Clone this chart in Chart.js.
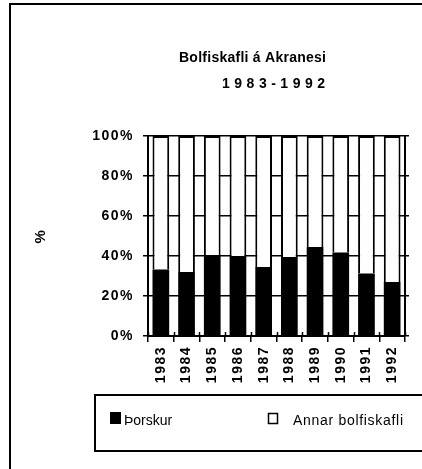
<!DOCTYPE html>
<html><head><meta charset="utf-8">
<style>html,body{margin:0;padding:0;background:#fff;overflow:hidden}canvas{display:block}</style>
<script src="https://cdn.jsdelivr.net/npm/chart.js@4"></script>
</head><body>
<canvas id="c" width="422" height="469"></canvas>
<script>
const years = ['1983','1984','1985','1986','1987','1988','1989','1990','1991','1992'];
const seriesNames = ['Þorskur', 'Annar bolfiskafli'];
const thorskur = [33.2, 32.0, 40.4, 40.0, 34.5, 39.5, 44.5, 41.7, 31.2, 27.0];
const annar = [66.8, 68.0, 59.6, 60.0, 65.5, 60.5, 55.5, 58.3, 68.8, 73.0];
const yTickLabels = ['0%', '20%', '40%', '60%', '80%', '100%'];
const titleLines = ['Bolfiskafli á Akranesi', '1983-1992'];
const yAxisTitle = '%';

const FONT = "'Liberation Sans', Arial, sans-serif";

function fitText(ctx, text, x, y, width) {
  ctx.letterSpacing = '0px';
  const w = ctx.measureText(text).width;
  const n = [...text].length;
  const s = n > 1 ? (width - w) / (n - 1) : 0;
  ctx.letterSpacing = s + 'px';
  ctx.fillText(text, x, y);
}

const decor = {
  id: 'decor',
  beforeUpdate(chart) { chart.ctx.letterSpacing = '1.5px'; },
  beforeDraw(chart) {
    const c = chart.ctx;
    c.save(); c.fillStyle = '#fff'; c.fillRect(0, 0, chart.width, chart.height); c.restore();
    c.letterSpacing = '1.5px';
  },
  afterDraw(chart) {
    const c = chart.ctx;
    c.save();
    c.strokeStyle = '#000';
    c.fillStyle = '#000';
    // outer frame
    c.lineWidth = 2;
    c.beginPath();
    c.moveTo(10, 469); c.lineTo(10, 4); c.lineTo(422, 4);
    c.stroke();
    // inner x tick marks
    const xs = chart.scales.x;
    const bottom = chart.chartArea.bottom;
    c.lineWidth = 1.5;
    c.beginPath();
    for (let i = 0; i <= years.length; i++) {
      const px = Math.round(xs.getPixelForValue(i - 0.5)) + 0.5;
      c.moveTo(px, bottom - 4); c.lineTo(px, bottom);
    }
    c.stroke();
    // title
    c.textBaseline = 'alphabetic';
    c.textAlign = 'left';
    c.font = "bold 14px " + FONT;
    fitText(c, titleLines[0], 179, 62, 147);
    fitText(c, titleLines[1], 222, 88, 103);
    // legend box
    c.letterSpacing = '0px';
    c.lineWidth = 2;
    c.strokeRect(95, 395, 340, 56);
    const ds = chart.data.datasets;
    c.font = "14px " + FONT;
    // item 1
    c.fillStyle = ds[0].backgroundColor;
    c.fillRect(110, 412, 11, 12);
    c.fillStyle = '#000';
    c.fillText(ds[0].label, 124, 425);
    // item 2
    c.lineWidth = 1.5;
    c.fillStyle = ds[1].backgroundColor;
    c.fillRect(268, 413, 10, 11);
    c.strokeRect(268.5, 413.5, 9, 10);
    c.fillStyle = '#000';
    fitText(c, ds[1].label, 293, 425, 110);
    c.restore();
  }
};

new Chart(document.getElementById('c'), {
  type: 'bar',
  data: {
    labels: years,
    datasets: [
      { label: seriesNames[0], data: thorskur, backgroundColor: '#000', borderColor: '#000', borderWidth: 0, barPercentage: 0.65, categoryPercentage: 1 },
      { label: seriesNames[1], data: annar, backgroundColor: '#fff', borderColor: '#000', borderWidth: 2, barPercentage: 0.65, categoryPercentage: 1 }
    ]
  },
  options: {
    responsive: false,
    animation: false,
    devicePixelRatio: 1,
    layout: { padding: { left: 20, top: 136, right: 13, bottom: 0 } },
    plugins: { legend: { display: false }, tooltip: { enabled: false }, title: { display: false } },
    scales: {
      x: {
        stacked: true,
        afterFit(s) { s.height = 133; },
        grid: { drawOnChartArea: false, color: '#000', lineWidth: 1.5, tickLength: 6 },
        border: { color: '#000', width: 2 },
        ticks: { color: '#000', font: { family: FONT, size: 14, weight: 'bold' }, minRotation: 90, maxRotation: 90, autoSkip: false, padding: 4 }
      },
      y: {
        stacked: true,
        min: 0, max: 100,
        afterFit(s) { s.width = 128; },
        grid: { color: '#000', lineWidth: 1.5, tickLength: 5 },
        border: { color: '#000', width: 2 },
        ticks: { stepSize: 20, color: '#000', padding: 9, font: { family: FONT, size: 14, weight: 'bold' }, callback: (v) => yTickLabels[Math.round(v / 20)] },
        title: { display: true, text: yAxisTitle, color: '#000', font: { family: FONT, size: 15, weight: 'bold' }, padding: { top: 12, bottom: 0 } }
      },
      y2: {
        position: 'right',
        min: 0, max: 100,
        grid: { drawOnChartArea: false, color: '#000', lineWidth: 1.5, tickLength: 4 },
        border: { color: '#000', width: 2 },
        ticks: { stepSize: 20, display: false }
      }
    }
  },
  plugins: [decor]
});
</script>
</body></html>
